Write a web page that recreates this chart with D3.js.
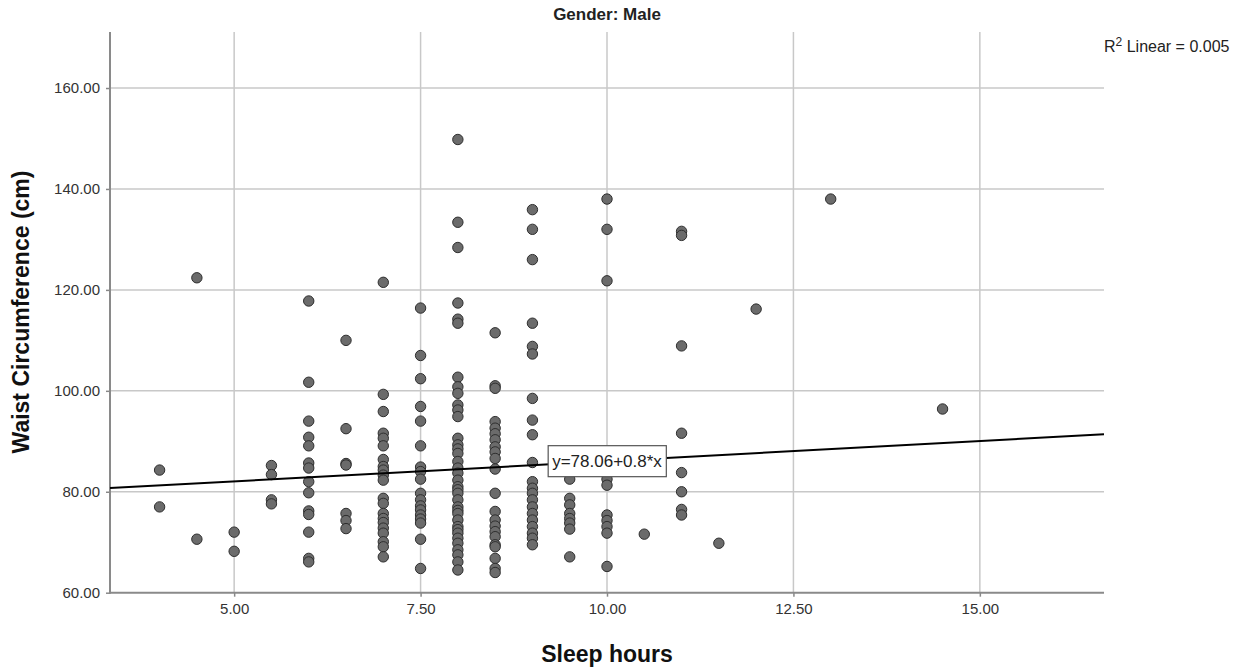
<!DOCTYPE html>
<html>
<head>
<meta charset="utf-8">
<script src="https://cdn.jsdelivr.net/npm/d3@7"></script>
<style>
  html, body { margin: 0; padding: 0; background: #fff; }
  svg { display: block; font-family: "Liberation Sans", Arial, sans-serif; }
</style>
</head>
<body>
<svg id="chart" width="1240" height="670"></svg>
<script>
// ---- Data ----
const chartTitle = "Gender: Male";
const xLabel = "Sleep hours";
const yLabel = "Waist Circumference (cm)";
const xTicks = [5, 7.5, 10, 12.5, 15];
const yTicks = [60, 80, 100, 120, 140, 160];
const fitIntercept = 78.06;
const fitSlope = 0.8;
const fitLabel = "y=78.06+0.8*x";
const r2Value = "0.005";

const sleepLevels = [4, 4.5, 5, 5.5, 6, 6.5, 7, 7.5, 8, 8.5, 9, 9.5, 10, 10.5, 11, 11.5, 12, 13, 14.5];
const waistAt4 = [84.3, 77.0];
const waistAt4_5 = [122.4, 70.6];
const waistAt5 = [72.0, 68.2];
const waistAt5_5 = [85.2, 83.4, 78.4, 77.6];
const waistAt6 = [117.8, 101.7, 94.0, 90.8, 89.1, 85.7, 84.7, 82.0, 79.8, 76.2, 75.5, 72.0, 66.8, 66.1];
const waistAt6_5 = [110.0, 92.5, 85.6, 85.3, 75.7, 74.3, 72.7];
const waistAt7 = [121.5, 99.3, 95.9, 91.6, 90.6, 89.1, 86.4, 85.0, 84.3, 83.3, 82.3, 78.7, 77.7, 75.7, 74.7, 73.9, 72.8, 71.8, 70.1, 69.1, 67.1];
const waistAt7_5 = [116.4, 107.0, 102.4, 96.9, 94.0, 89.1, 84.9, 84.0, 82.5, 79.7, 78.4, 77.2, 76.4, 75.4, 74.6, 73.8, 70.6, 64.8];
const waistAt8 = [149.8, 133.4, 128.4, 117.4, 114.2, 113.4, 102.7, 100.8, 99.5, 97.2, 96.2, 94.9, 90.6, 89.3, 88.5, 87.6, 86.0, 84.7, 83.7, 82.3, 81.0, 80.4, 79.7, 78.4, 77.0, 76.3, 75.7, 74.4, 73.1, 72.5, 71.8, 70.8, 69.8, 68.5, 67.5, 66.1, 64.5];
const waistAt8_5 = [111.5, 101.0, 100.5, 93.9, 92.6, 91.5, 90.3, 88.9, 87.9, 86.6, 84.5, 79.7, 76.1, 74.4, 73.2, 72.1, 71.1, 69.5, 69.1, 66.8, 64.8, 64.0];
const waistAt9 = [135.9, 132.0, 126.0, 113.4, 108.8, 107.3, 98.5, 94.2, 91.3, 85.8, 82.0, 80.7, 79.7, 78.4, 77.0, 75.7, 74.4, 73.1, 71.8, 70.8, 69.5];
const waistAt9_5 = [82.5, 78.7, 77.4, 75.7, 74.7, 73.8, 72.6, 67.1];
const waistAt10 = [138.0, 132.0, 121.8, 82.5, 81.3, 75.4, 74.3, 73.1, 71.8, 65.2];
const waistAt10_5 = [71.6];
const waistAt11 = [131.6, 130.8, 108.9, 91.6, 83.8, 80.0, 76.5, 75.4];
const waistAt11_5 = [69.8];
const waistAt12 = [116.2];
const waistAt13 = [138.0];
const waistAt14_5 = [96.4];

const waistByLevel = [waistAt4, waistAt4_5, waistAt5, waistAt5_5, waistAt6, waistAt6_5, waistAt7,
  waistAt7_5, waistAt8, waistAt8_5, waistAt9, waistAt9_5, waistAt10, waistAt10_5, waistAt11,
  waistAt11_5, waistAt12, waistAt13, waistAt14_5];

const points = [];
sleepLevels.forEach((s, i) => waistByLevel[i].forEach(w => points.push({x: s, y: w})));

// ---- Layout ----
const svg = d3.select("#chart");
const L = 110, R = 1104, T = 32, B = 592.7;
const x = d3.scaleLinear().domain([3.335, 16.665]).range([L, R]);
const y = d3.scaleLinear().domain([60, 171.1]).range([B, T]);

// gridlines
const grid = svg.append("g");
grid.selectAll("line.v").data(xTicks).join("line")
  .attr("x1", d => x(d)).attr("x2", d => x(d))
  .attr("y1", T).attr("y2", B)
  .attr("stroke", "#c8c8c8").attr("stroke-width", 1.5);
grid.selectAll("line.h").data(yTicks.filter(d => d > 60)).join("line")
  .attr("x1", L).attr("x2", R)
  .attr("y1", d => y(d)).attr("y2", d => y(d))
  .attr("stroke", "#c8c8c8").attr("stroke-width", 1.5);

// axes
const xAxis = d3.axisBottom(x).tickValues(xTicks).tickFormat(d3.format(".2f")).tickSize(4).tickSizeOuter(0);
const yAxis = d3.axisLeft(y).tickValues(yTicks).tickFormat(d3.format(".2f")).tickSize(4).tickSizeOuter(0);

const gx = svg.append("g").attr("transform", `translate(0,${B})`).call(xAxis);
const gy = svg.append("g").attr("transform", `translate(${L},0)`).call(yAxis);
[gx, gy].forEach(g => {
  g.select(".domain").remove();
  g.selectAll(".tick line").attr("stroke", "#888").attr("stroke-width", 1.5);
  g.selectAll(".tick text").attr("fill", "#333").style("font-size", "15px")
    .style("font-family", "'Liberation Sans', Arial, sans-serif");
});
gx.selectAll(".tick text").attr("dy", "0.95em");
gy.selectAll(".tick text").attr("dx", "-3px");

// axis lines
svg.append("line").attr("x1", L).attr("x2", L).attr("y1", T).attr("y2", B + 1)
  .attr("stroke", "#8a8a8a").attr("stroke-width", 2);
svg.append("line").attr("x1", L - 1).attr("x2", R).attr("y1", B).attr("y2", B)
  .attr("stroke", "#8a8a8a").attr("stroke-width", 2);

// points
svg.append("g").selectAll("circle").data(points).join("circle")
  .attr("cx", d => x(d.x)).attr("cy", d => y(d.y)).attr("r", 5.2)
  .attr("fill", "#6b6b6b").attr("stroke", "#2e2e2e").attr("stroke-width", 1);

// fit line
const [x0, x1] = x.domain();
svg.append("line")
  .attr("x1", x(x0)).attr("y1", y(fitIntercept + fitSlope * x0))
  .attr("x2", x(x1)).attr("y2", y(fitIntercept + fitSlope * x1))
  .attr("stroke", "#000").attr("stroke-width", 2);

// fit label
const lx = 10, ly = fitIntercept + fitSlope * lx;
const lg = svg.append("g");
const lt = lg.append("text").attr("x", x(lx)).attr("y", y(ly)).attr("text-anchor", "middle")
  .attr("dominant-baseline", "central").attr("fill", "#222").style("font-size", "17px").text(fitLabel);
const bb = lt.node().getBBox();
lg.insert("rect", "text").attr("x", bb.x - 4).attr("y", y(ly) - 15.5)
  .attr("width", bb.width + 8).attr("height", 31)
  .attr("fill", "#fff").attr("stroke", "#555").attr("stroke-width", 1.2);

// title
svg.append("text").attr("x", (L + R) / 2).attr("y", 20).attr("text-anchor", "middle")
  .style("font-size", "17px").style("font-weight", "bold").attr("fill", "#222").text(chartTitle);

// R2 label
const r2 = svg.append("text").attr("x", 1104).attr("y", 52).attr("fill", "#222").style("font-size", "16px");
r2.append("tspan").text("R");
r2.append("tspan").attr("dy", "-6").style("font-size", "12px").text("2");
r2.append("tspan").attr("dy", "6").text(" Linear = " + r2Value);

// axis titles
svg.append("text").attr("x", (L + R) / 2).attr("y", 662).attr("text-anchor", "middle")
  .style("font-size", "23px").style("font-weight", "bold").attr("fill", "#111").text(xLabel);
svg.append("text").attr("transform", "translate(29,312) rotate(-90)").attr("text-anchor", "middle")
  .style("font-size", "23px").style("font-weight", "bold").attr("fill", "#111").text(yLabel);
</script>
</body>
</html>
